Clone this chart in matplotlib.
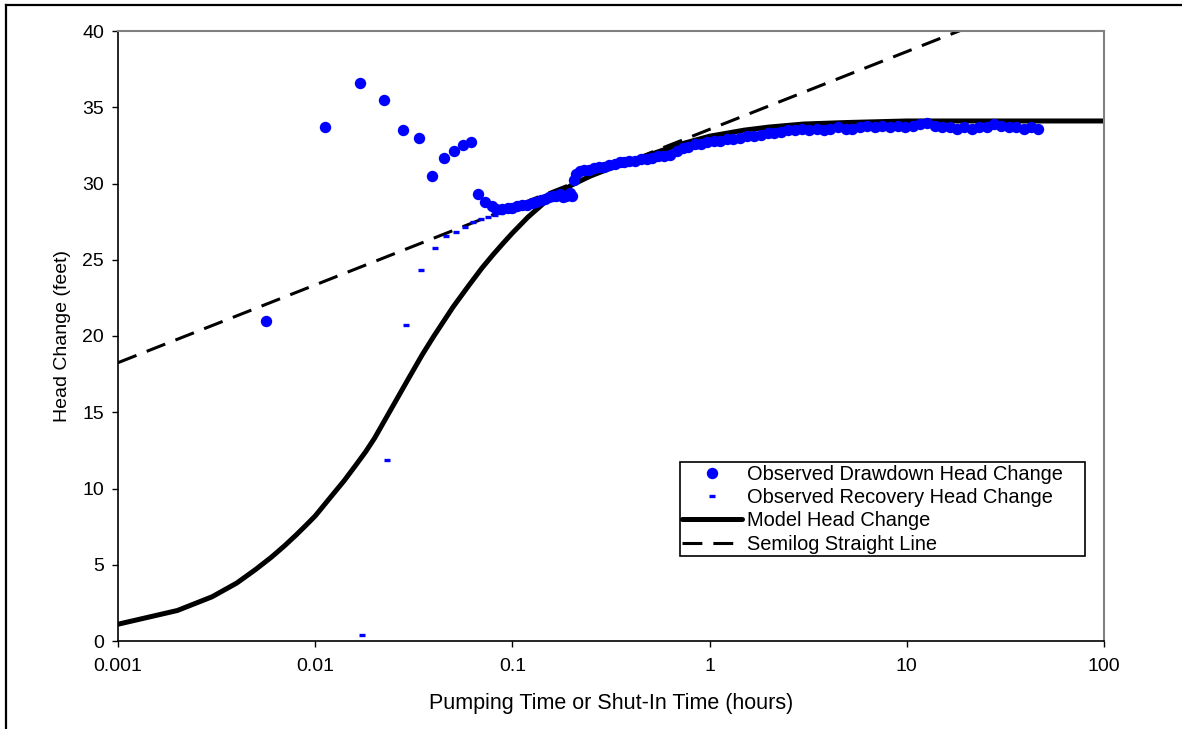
import matplotlib
matplotlib.use("Agg")
import matplotlib.pyplot as plt
from matplotlib.lines import Line2D
from matplotlib.ticker import FixedLocator, FixedFormatter

plt.rcParams["font.family"] = ["Liberation Sans", "DejaVu Sans"]

# -------------------------
# Observed drawdown (hours, feet)
# -------------------------
dd_time = [
    0.0056, 0.0112, 0.0168, 0.0223, 0.0280, 0.0336, 0.0393, 0.0448, 0.0504,
    0.0560, 0.0614, 0.0669, 0.0726, 0.0785, 0.083, 0.089, 0.095, 0.100,
    0.106, 0.112, 0.118, 0.125, 0.132, 0.139, 0.146, 0.153, 0.160, 0.167,
    0.174, 0.181, 0.188, 0.195, 0.200, 0.205, 0.210, 0.220, 0.230, 0.245,
    0.26, 0.275, 0.29, 0.31, 0.33, 0.35, 0.37, 0.39, 0.42, 0.45, 0.48,
    0.51, 0.55, 0.59, 0.63, 0.68, 0.73, 0.78, 0.84, 0.90, 0.97, 1.05,
    1.13, 1.22, 1.32, 1.43, 1.55, 1.68, 1.82, 1.97, 2.13, 2.3, 2.5, 2.7,
    2.95, 3.2, 3.5, 3.8, 4.1, 4.5, 4.9, 5.3, 5.8, 6.3, 6.9, 7.5, 8.2,
    9.0, 9.8, 10.7, 11.7, 12.7, 13.9, 15.1, 16.5, 18.0, 19.6, 21.4, 23.3,
    25.4, 27.7, 30.2, 32.9, 35.9, 39.1, 42.6, 46.5,
]
dd_head = [
    21.0, 33.7, 36.6, 35.5, 33.5, 33.0, 30.5, 31.7, 32.1,
    32.5, 32.7, 29.3, 28.8, 28.5, 28.3, 28.3, 28.4, 28.4,
    28.5, 28.6, 28.6, 28.7, 28.8, 28.9, 29.0, 29.1, 29.2, 29.2,
    29.3, 29.1, 29.2, 29.4, 29.2, 30.2, 30.6, 30.8, 30.9, 30.9,
    31.0, 31.1, 31.1, 31.2, 31.3, 31.4, 31.4, 31.5, 31.5, 31.6, 31.6,
    31.7, 31.8, 31.8, 31.9, 32.1, 32.3, 32.4, 32.6, 32.6, 32.7, 32.8,
    32.8, 32.9, 32.9, 33.0, 33.1, 33.1, 33.2, 33.3, 33.3, 33.4, 33.5, 33.5,
    33.6, 33.5, 33.6, 33.5, 33.6, 33.7, 33.6, 33.6, 33.7, 33.8, 33.7, 33.8, 33.7,
    33.8, 33.7, 33.8, 33.9, 34.0, 33.8, 33.7, 33.7, 33.6, 33.7, 33.6, 33.7,
    33.7, 33.9, 33.8, 33.7, 33.7, 33.6, 33.7, 33.6,
]

# -------------------------
# Observed recovery (shut-in hours, feet)
# -------------------------
rec_time = [0.0173, 0.0230, 0.0288, 0.0345, 0.0404, 0.0460, 0.0515,
            0.0573, 0.0629, 0.0693, 0.0755, 0.082, 0.088]
rec_head = [0.4, 11.9, 20.7, 24.35, 25.8, 26.55, 26.85,
            27.15, 27.45, 27.65, 27.8, 27.95, 28.05]

# -------------------------
# Model head change
# -------------------------
model_time = [0.001, 0.002, 0.003, 0.004, 0.005, 0.006, 0.007, 0.008, 0.009,
              0.01, 0.012, 0.014, 0.016, 0.018, 0.02, 0.025, 0.03, 0.035,
              0.04, 0.05, 0.06, 0.07, 0.08, 0.09, 0.1, 0.12, 0.15, 0.2,
              0.25, 0.3, 0.4, 0.5, 0.7, 1.0, 1.5, 2.0, 3.0, 5.0, 10.0, 100.0]
model_head = [1.1, 2.0, 2.9, 3.8, 4.7, 5.5, 6.25, 6.95, 7.6,
              8.2, 9.45, 10.5, 11.5, 12.4, 13.3, 15.5, 17.3, 18.8,
              20.0, 21.9, 23.3, 24.45, 25.35, 26.1, 26.75, 27.8, 28.9, 29.9,
              30.5, 30.9, 31.45, 31.9, 32.55, 33.1, 33.5, 33.7, 33.9, 34.0,
              34.1, 34.1]

# -------------------------
# Semilog straight line (end points)
# -------------------------
semilog_time = [0.001, 100.0]
semilog_head = [18.25, 43.75]

x_ticks = [0.001, 0.01, 0.1, 1, 10, 100]
x_tick_labels = ["0.001", "0.01", "0.1", "1", "10", "100"]
y_ticks = [0, 5, 10, 15, 20, 25, 30, 35, 40]

BLUE = "#0000ff"

fig = plt.figure(figsize=(11.82, 7.29), dpi=100)
ax = fig.add_axes([118 / 1182, 88 / 729, 986 / 1182, 610 / 729])

ax.plot(model_time, model_head, color="black", linewidth=3.6,
        solid_capstyle="round", solid_joinstyle="round",
        label="Model Head Change", zorder=2)
ax.plot(semilog_time, semilog_head, color="black", linewidth=2.2,
        dashes=(6.5, 3.6), label="Semilog Straight Line", zorder=2)
ax.plot(dd_time, dd_head, linestyle="none", marker="o", markersize=8.2,
        color=BLUE, markeredgewidth=0,
        label="Observed Drawdown Head Change", zorder=3)
ax.plot(rec_time, rec_head, linestyle="none", marker="_", markersize=4.4,
        markeredgewidth=2.4, color=BLUE,
        label="Observed Recovery Head Change", zorder=3)

ax.set_xscale("log")
ax.set_xlim(0.001, 100)
ax.set_ylim(0, 40)
ax.xaxis.set_major_locator(FixedLocator(x_ticks))
ax.xaxis.set_major_formatter(FixedFormatter(x_tick_labels))
ax.xaxis.set_minor_locator(FixedLocator([]))
ax.set_yticks(y_ticks)
ax.tick_params(direction="out", length=4, width=1, labelsize=14,
               colors="black")
ax.tick_params(axis="x", pad=8)
ax.tick_params(axis="y", pad=6)

for side in ("top", "right"):
    ax.spines[side].set_color("#808080")
    ax.spines[side].set_linewidth(1.5)
for side in ("left", "bottom"):
    ax.spines[side].set_color("black")
    ax.spines[side].set_linewidth(1.2)

ax.set_xlabel("Pumping Time or Shut-In Time (hours)", fontsize=15.5, labelpad=13)
ax.set_ylabel("Head Change (feet)", fontsize=14, labelpad=8)

# legend order: observed first, then model lines
handles, labels = ax.get_legend_handles_labels()
order = [2, 3, 0, 1]
leg = ax.legend([handles[i] for i in order], [labels[i] for i in order],
                loc="lower left", bbox_to_anchor=(0.570, 0.139, 0.411, 0.154),
                mode="expand", fontsize=14.4, frameon=True, fancybox=False,
                edgecolor="black", framealpha=1, borderpad=0.12,
                labelspacing=0.22, handlelength=3.0, handletextpad=0.22,
                borderaxespad=0)
leg.get_frame().set_linewidth(1.2)

# outer chart frame
fig.add_artist(Line2D([6 / 1182, 6 / 1182], [0, 1 - 5 / 729],
                      transform=fig.transFigure, color="black", linewidth=1.6))
fig.add_artist(Line2D([6 / 1182, 1], [1 - 5 / 729, 1 - 5 / 729],
                      transform=fig.transFigure, color="black", linewidth=1.6))

fig.savefig("out.png", dpi=100)
